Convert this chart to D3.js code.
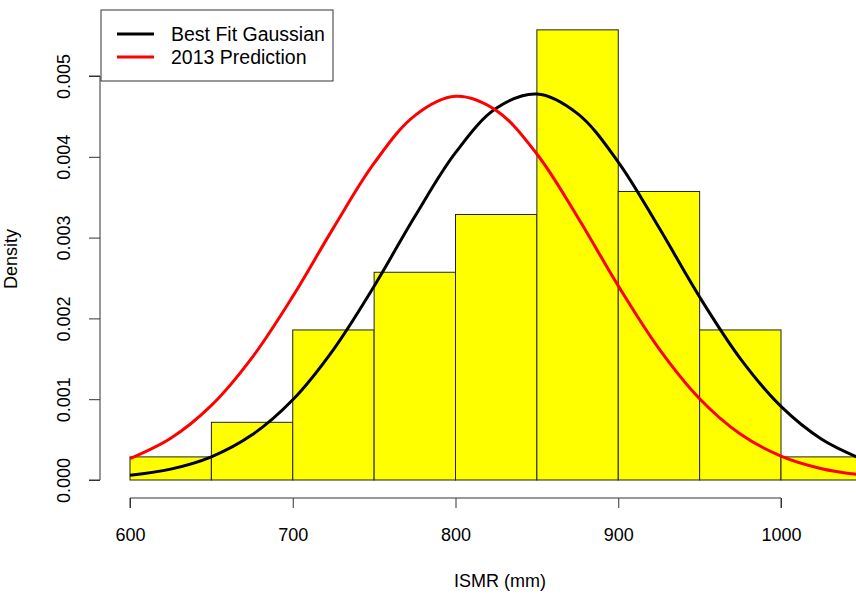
<!DOCTYPE html>
<html>
<head>
<meta charset="utf-8">
<script src="https://cdn.jsdelivr.net/npm/d3@7"></script>
<style>
  body { margin: 0; background: #fff; }
  svg { display: block; font-family: 'Liberation Sans', Arial, sans-serif; }
</style>
</head>
<body>
<svg width="856" height="595"></svg>
<script>
// histogram bins (ISMR, mm) and density heights
const binStarts = [600, 650, 700, 750, 800, 850, 900, 950, 1000];
const binWidth = 50;
const binDensity = [0.000286, 0.000714, 0.001857, 0.002571, 0.003286, 0.005571, 0.003571, 0.001857, 0.000286];

// curves sampled every 25 mm
const curveX = [600, 625, 650, 675, 700, 725, 750, 775, 800, 825, 850, 875, 900, 925, 950, 975, 1000, 1025, 1050];
const bestFit = [0.000058, 0.000135, 0.000287, 0.000559, 0.000993, 0.001615, 0.002399, 0.003261, 0.004051, 0.0046, 0.004777, 0.004534, 0.003935, 0.003124, 0.002265, 0.001503, 0.000911, 0.000505, 0.000256];
const prediction = [0.000264, 0.000516, 0.000923, 0.001515, 0.002272, 0.00312, 0.003921, 0.00451, 0.004748, 0.004574, 0.004035, 0.003256, 0.002403, 0.001626, 0.001006, 0.000569, 0.000296, 0.00014, 0.000061];

const xTicks = [600, 700, 800, 900, 1000];
const yTicks = [0, 0.001, 0.002, 0.003, 0.004, 0.005];
const legendItems = [
  { label: 'Best Fit Gaussian', color: '#000' },
  { label: '2013 Prediction', color: '#ff0000' }
];

const svg = d3.select('svg');
const fontSize = 18;

const xScale = d3.scaleLinear().domain([600, 1000]).range([130, 781]);
const yScale = d3.scaleLinear().domain([0, 0.005]).range([480, 76]);

// bars
svg
  .append('g')
  .selectAll('rect')
  .data(binStarts)
  .enter()
  .append('rect')
  .attr('x', d => xScale(d))
  .attr('y', (d, i) => yScale(binDensity[i]))
  .attr('width', d => xScale(d + binWidth) - xScale(d))
  .attr('height', (d, i) => yScale(0) - yScale(binDensity[i]))
  .attr('fill', '#ffff00')
  .attr('stroke', '#222')
  .attr('stroke-width', 1);

// curves
const line = data =>
  d3
    .line()
    .x((d, i) => xScale(curveX[i]))
    .y(d => yScale(d))
    .curve(d3.curveCatmullRom)(data);

svg
  .append('path')
  .attr('d', line(bestFit))
  .attr('fill', 'none')
  .attr('stroke', '#000')
  .attr('stroke-width', 3);

svg
  .append('path')
  .attr('d', line(prediction))
  .attr('fill', 'none')
  .attr('stroke', '#ff0000')
  .attr('stroke-width', 3);

// x axis
const xAxis = d3.axisBottom(xScale).tickValues(xTicks).tickSize(10).tickPadding(20).tickFormat(d3.format('d'));
const gx = svg.append('g').attr('transform', 'translate(0, 498)').call(xAxis);
gx.select('.domain').attr('d', `M${xScale(600)},10V0H${xScale(1000)}V10`);
gx.selectAll('line, path').attr('stroke', '#333');
gx.selectAll('text').attr('font-size', fontSize).attr('font-family', 'Liberation Sans, Arial, sans-serif').attr('fill', '#000');

// y axis
const yAxis = d3.axisLeft(yScale).tickValues(yTicks).tickSize(11).tickFormat(d3.format('.3f'));
const gy = svg.append('g').attr('transform', 'translate(100, 0)').call(yAxis);
gy.select('.domain').attr('d', `M-11,${yScale(0)}H0V${yScale(0.005)}H-11`);
gy.selectAll('line, path').attr('stroke', '#333');
gy.selectAll('text')
  .attr('font-size', fontSize)
  .attr('font-family', 'Liberation Sans, Arial, sans-serif')
  .attr('fill', '#000')
  .attr('x', null)
  .attr('dy', null)
  .attr('text-anchor', 'middle')
  .attr('transform', 'translate(-30, 0) rotate(-90)');

// axis titles
svg
  .append('text')
  .text('ISMR (mm)')
  .attr('x', 500)
  .attr('y', 587)
  .attr('text-anchor', 'middle')
  .attr('font-size', fontSize);

svg
  .append('text')
  .text('Density')
  .attr('transform', 'translate(17, 259) rotate(-90)')
  .attr('text-anchor', 'middle')
  .attr('font-size', fontSize);

// legend
const legend = svg.append('g').attr('transform', 'translate(101, 10)');
legend
  .append('rect')
  .attr('width', 232)
  .attr('height', 71)
  .attr('fill', '#fff')
  .attr('stroke', '#333')
  .attr('stroke-width', 1);

const items = legend
  .selectAll('g.item')
  .data(legendItems)
  .enter()
  .append('g')
  .attr('class', 'item')
  .attr('transform', (d, i) => `translate(0, ${24 + i * 23})`);

items
  .append('line')
  .attr('x1', 16)
  .attr('x2', 53)
  .attr('stroke', d => d.color)
  .attr('stroke-width', 3);

items
  .append('text')
  .text(d => d.label)
  .attr('x', 70)
  .attr('y', 7)
  .attr('font-size', 19.5);
</script>
</body>
</html>
